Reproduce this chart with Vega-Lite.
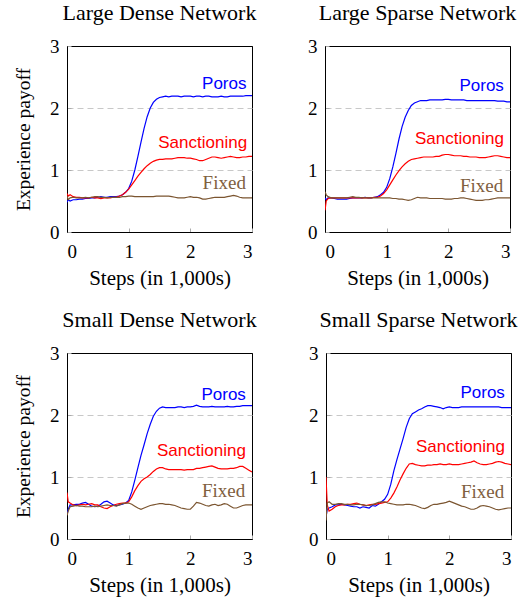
{
"$schema":"https://vega.github.io/schema/vega-lite/v6.json",
"padding":{"left":13,"top":1,"right":5,"bottom":5},
"background":"white",
"datasets":{
"curves":[
{"p":"LD","x":0,"Poros":0.48,"Sanctioning":0.62,"Fixed":0.58},
{"p":"LD","x":0.02,"Poros":0.52,"Sanctioning":0.58,"Fixed":0.52},
{"p":"LD","x":0.05,"Poros":0.5,"Sanctioning":0.6,"Fixed":0.55},
{"p":"LD","x":0.1,"Poros":0.52,"Sanctioning":0.57,"Fixed":0.56},
{"p":"LD","x":0.15,"Poros":0.52,"Sanctioning":0.56,"Fixed":0.55},
{"p":"LD","x":0.2,"Poros":0.53,"Sanctioning":0.56,"Fixed":0.55},
{"p":"LD","x":0.25,"Poros":0.53,"Sanctioning":0.55,"Fixed":0.55},
{"p":"LD","x":0.3,"Poros":0.54,"Sanctioning":0.55,"Fixed":0.56},
{"p":"LD","x":0.35,"Poros":0.54,"Sanctioning":0.55,"Fixed":0.55},
{"p":"LD","x":0.4,"Poros":0.55,"Sanctioning":0.56,"Fixed":0.56},
{"p":"LD","x":0.45,"Poros":0.55,"Sanctioning":0.55,"Fixed":0.57},
{"p":"LD","x":0.5,"Poros":0.56,"Sanctioning":0.55,"Fixed":0.57},
{"p":"LD","x":0.55,"Poros":0.57,"Sanctioning":0.54,"Fixed":0.56},
{"p":"LD","x":0.6,"Poros":0.56,"Sanctioning":0.55,"Fixed":0.56},
{"p":"LD","x":0.65,"Poros":0.56,"Sanctioning":0.55,"Fixed":0.55},
{"p":"LD","x":0.7,"Poros":0.57,"Sanctioning":0.55,"Fixed":0.56},
{"p":"LD","x":0.75,"Poros":0.57,"Sanctioning":0.56,"Fixed":0.56},
{"p":"LD","x":0.8,"Poros":0.57,"Sanctioning":0.56,"Fixed":0.56},
{"p":"LD","x":0.85,"Poros":0.58,"Sanctioning":0.58,"Fixed":0.56},
{"p":"LD","x":0.9,"Poros":0.6,"Sanctioning":0.6,"Fixed":0.57},
{"p":"LD","x":0.95,"Poros":0.64,"Sanctioning":0.64,"Fixed":0.57},
{"p":"LD","x":1.0,"Poros":0.7,"Sanctioning":0.69,"Fixed":0.58},
{"p":"LD","x":1.05,"Poros":0.82,"Sanctioning":0.76,"Fixed":0.58},
{"p":"LD","x":1.1,"Poros":1.0,"Sanctioning":0.83,"Fixed":0.57},
{"p":"LD","x":1.15,"Poros":1.22,"Sanctioning":0.9,"Fixed":0.57},
{"p":"LD","x":1.2,"Poros":1.45,"Sanctioning":0.96,"Fixed":0.57},
{"p":"LD","x":1.25,"Poros":1.67,"Sanctioning":1.02,"Fixed":0.57},
{"p":"LD","x":1.3,"Poros":1.86,"Sanctioning":1.07,"Fixed":0.57},
{"p":"LD","x":1.35,"Poros":2.0,"Sanctioning":1.11,"Fixed":0.57},
{"p":"LD","x":1.4,"Poros":2.09,"Sanctioning":1.14,"Fixed":0.57},
{"p":"LD","x":1.45,"Poros":2.14,"Sanctioning":1.16,"Fixed":0.58},
{"p":"LD","x":1.5,"Poros":2.17,"Sanctioning":1.17,"Fixed":0.58},
{"p":"LD","x":1.55,"Poros":2.18,"Sanctioning":1.17,"Fixed":0.58},
{"p":"LD","x":1.6,"Poros":2.19,"Sanctioning":1.18,"Fixed":0.58},
{"p":"LD","x":1.65,"Poros":2.18,"Sanctioning":1.18,"Fixed":0.58},
{"p":"LD","x":1.7,"Poros":2.19,"Sanctioning":1.18,"Fixed":0.57},
{"p":"LD","x":1.75,"Poros":2.19,"Sanctioning":1.19,"Fixed":0.56},
{"p":"LD","x":1.8,"Poros":2.19,"Sanctioning":1.2,"Fixed":0.55},
{"p":"LD","x":1.85,"Poros":2.18,"Sanctioning":1.2,"Fixed":0.55},
{"p":"LD","x":1.9,"Poros":2.19,"Sanctioning":1.2,"Fixed":0.55},
{"p":"LD","x":1.95,"Poros":2.19,"Sanctioning":1.19,"Fixed":0.56},
{"p":"LD","x":2.0,"Poros":2.19,"Sanctioning":1.19,"Fixed":0.57},
{"p":"LD","x":2.05,"Poros":2.18,"Sanctioning":1.18,"Fixed":0.56},
{"p":"LD","x":2.1,"Poros":2.19,"Sanctioning":1.17,"Fixed":0.56},
{"p":"LD","x":2.15,"Poros":2.19,"Sanctioning":1.15,"Fixed":0.55},
{"p":"LD","x":2.2,"Poros":2.18,"Sanctioning":1.15,"Fixed":0.53},
{"p":"LD","x":2.25,"Poros":2.19,"Sanctioning":1.17,"Fixed":0.53},
{"p":"LD","x":2.3,"Poros":2.19,"Sanctioning":1.19,"Fixed":0.54},
{"p":"LD","x":2.35,"Poros":2.18,"Sanctioning":1.21,"Fixed":0.55},
{"p":"LD","x":2.4,"Poros":2.18,"Sanctioning":1.21,"Fixed":0.56},
{"p":"LD","x":2.45,"Poros":2.18,"Sanctioning":1.2,"Fixed":0.56},
{"p":"LD","x":2.5,"Poros":2.19,"Sanctioning":1.19,"Fixed":0.56},
{"p":"LD","x":2.55,"Poros":2.18,"Sanctioning":1.2,"Fixed":0.56},
{"p":"LD","x":2.6,"Poros":2.18,"Sanctioning":1.21,"Fixed":0.57},
{"p":"LD","x":2.65,"Poros":2.19,"Sanctioning":1.22,"Fixed":0.58},
{"p":"LD","x":2.7,"Poros":2.19,"Sanctioning":1.21,"Fixed":0.59},
{"p":"LD","x":2.75,"Poros":2.19,"Sanctioning":1.2,"Fixed":0.58},
{"p":"LD","x":2.8,"Poros":2.19,"Sanctioning":1.2,"Fixed":0.56},
{"p":"LD","x":2.85,"Poros":2.19,"Sanctioning":1.21,"Fixed":0.55},
{"p":"LD","x":2.9,"Poros":2.2,"Sanctioning":1.21,"Fixed":0.55},
{"p":"LD","x":2.95,"Poros":2.2,"Sanctioning":1.22,"Fixed":0.55},
{"p":"LD","x":3.0,"Poros":2.2,"Sanctioning":1.22,"Fixed":0.55},
{"p":"LS","x":0,"Poros":0.55,"Sanctioning":0.35,"Fixed":0.65},
{"p":"LS","x":0.02,"Poros":0.52,"Sanctioning":0.5,"Fixed":0.6},
{"p":"LS","x":0.05,"Poros":0.55,"Sanctioning":0.54,"Fixed":0.57},
{"p":"LS","x":0.1,"Poros":0.55,"Sanctioning":0.55,"Fixed":0.55},
{"p":"LS","x":0.15,"Poros":0.54,"Sanctioning":0.55,"Fixed":0.55},
{"p":"LS","x":0.2,"Poros":0.53,"Sanctioning":0.55,"Fixed":0.55},
{"p":"LS","x":0.25,"Poros":0.53,"Sanctioning":0.55,"Fixed":0.55},
{"p":"LS","x":0.3,"Poros":0.53,"Sanctioning":0.55,"Fixed":0.55},
{"p":"LS","x":0.35,"Poros":0.53,"Sanctioning":0.55,"Fixed":0.55},
{"p":"LS","x":0.4,"Poros":0.54,"Sanctioning":0.55,"Fixed":0.56},
{"p":"LS","x":0.45,"Poros":0.55,"Sanctioning":0.55,"Fixed":0.57},
{"p":"LS","x":0.5,"Poros":0.55,"Sanctioning":0.55,"Fixed":0.56},
{"p":"LS","x":0.55,"Poros":0.55,"Sanctioning":0.55,"Fixed":0.56},
{"p":"LS","x":0.6,"Poros":0.55,"Sanctioning":0.55,"Fixed":0.55},
{"p":"LS","x":0.65,"Poros":0.56,"Sanctioning":0.55,"Fixed":0.55},
{"p":"LS","x":0.7,"Poros":0.55,"Sanctioning":0.55,"Fixed":0.55},
{"p":"LS","x":0.75,"Poros":0.55,"Sanctioning":0.55,"Fixed":0.55},
{"p":"LS","x":0.8,"Poros":0.56,"Sanctioning":0.56,"Fixed":0.55},
{"p":"LS","x":0.85,"Poros":0.57,"Sanctioning":0.56,"Fixed":0.55},
{"p":"LS","x":0.9,"Poros":0.6,"Sanctioning":0.58,"Fixed":0.55},
{"p":"LS","x":0.95,"Poros":0.64,"Sanctioning":0.62,"Fixed":0.55},
{"p":"LS","x":1.0,"Poros":0.72,"Sanctioning":0.68,"Fixed":0.55},
{"p":"LS","x":1.05,"Poros":0.86,"Sanctioning":0.76,"Fixed":0.55},
{"p":"LS","x":1.1,"Poros":1.05,"Sanctioning":0.84,"Fixed":0.54},
{"p":"LS","x":1.15,"Poros":1.27,"Sanctioning":0.92,"Fixed":0.54},
{"p":"LS","x":1.2,"Poros":1.5,"Sanctioning":0.99,"Fixed":0.53},
{"p":"LS","x":1.25,"Poros":1.7,"Sanctioning":1.05,"Fixed":0.53},
{"p":"LS","x":1.3,"Poros":1.85,"Sanctioning":1.1,"Fixed":0.52},
{"p":"LS","x":1.35,"Poros":1.96,"Sanctioning":1.14,"Fixed":0.51},
{"p":"LS","x":1.4,"Poros":2.04,"Sanctioning":1.17,"Fixed":0.52},
{"p":"LS","x":1.45,"Poros":2.08,"Sanctioning":1.18,"Fixed":0.54},
{"p":"LS","x":1.5,"Poros":2.1,"Sanctioning":1.19,"Fixed":0.56},
{"p":"LS","x":1.55,"Poros":2.12,"Sanctioning":1.2,"Fixed":0.55},
{"p":"LS","x":1.6,"Poros":2.12,"Sanctioning":1.21,"Fixed":0.55},
{"p":"LS","x":1.65,"Poros":2.12,"Sanctioning":1.21,"Fixed":0.55},
{"p":"LS","x":1.7,"Poros":2.13,"Sanctioning":1.21,"Fixed":0.54},
{"p":"LS","x":1.75,"Poros":2.13,"Sanctioning":1.21,"Fixed":0.54},
{"p":"LS","x":1.8,"Poros":2.13,"Sanctioning":1.22,"Fixed":0.54},
{"p":"LS","x":1.85,"Poros":2.13,"Sanctioning":1.22,"Fixed":0.54},
{"p":"LS","x":1.9,"Poros":2.13,"Sanctioning":1.24,"Fixed":0.54},
{"p":"LS","x":1.95,"Poros":2.14,"Sanctioning":1.25,"Fixed":0.53},
{"p":"LS","x":2.0,"Poros":2.14,"Sanctioning":1.25,"Fixed":0.53},
{"p":"LS","x":2.05,"Poros":2.13,"Sanctioning":1.24,"Fixed":0.53},
{"p":"LS","x":2.1,"Poros":2.13,"Sanctioning":1.23,"Fixed":0.54},
{"p":"LS","x":2.15,"Poros":2.13,"Sanctioning":1.23,"Fixed":0.54},
{"p":"LS","x":2.2,"Poros":2.13,"Sanctioning":1.23,"Fixed":0.55},
{"p":"LS","x":2.25,"Poros":2.13,"Sanctioning":1.22,"Fixed":0.55},
{"p":"LS","x":2.3,"Poros":2.12,"Sanctioning":1.22,"Fixed":0.54},
{"p":"LS","x":2.35,"Poros":2.12,"Sanctioning":1.21,"Fixed":0.53},
{"p":"LS","x":2.4,"Poros":2.12,"Sanctioning":1.21,"Fixed":0.52},
{"p":"LS","x":2.45,"Poros":2.12,"Sanctioning":1.21,"Fixed":0.51},
{"p":"LS","x":2.5,"Poros":2.12,"Sanctioning":1.2,"Fixed":0.51},
{"p":"LS","x":2.55,"Poros":2.12,"Sanctioning":1.2,"Fixed":0.51},
{"p":"LS","x":2.6,"Poros":2.12,"Sanctioning":1.2,"Fixed":0.52},
{"p":"LS","x":2.65,"Poros":2.12,"Sanctioning":1.21,"Fixed":0.52},
{"p":"LS","x":2.7,"Poros":2.12,"Sanctioning":1.22,"Fixed":0.53},
{"p":"LS","x":2.75,"Poros":2.12,"Sanctioning":1.23,"Fixed":0.54},
{"p":"LS","x":2.8,"Poros":2.11,"Sanctioning":1.23,"Fixed":0.55},
{"p":"LS","x":2.85,"Poros":2.11,"Sanctioning":1.22,"Fixed":0.55},
{"p":"LS","x":2.9,"Poros":2.11,"Sanctioning":1.21,"Fixed":0.55},
{"p":"LS","x":2.95,"Poros":2.1,"Sanctioning":1.2,"Fixed":0.55},
{"p":"LS","x":3.0,"Poros":2.1,"Sanctioning":1.2,"Fixed":0.55},
{"p":"SD","x":0,"Poros":0.4,"Sanctioning":0.75,"Fixed":0.38},
{"p":"SD","x":0.02,"Poros":0.48,"Sanctioning":0.6,"Fixed":0.45},
{"p":"SD","x":0.05,"Poros":0.55,"Sanctioning":0.58,"Fixed":0.52},
{"p":"SD","x":0.1,"Poros":0.55,"Sanctioning":0.55,"Fixed":0.53},
{"p":"SD","x":0.15,"Poros":0.56,"Sanctioning":0.54,"Fixed":0.54},
{"p":"SD","x":0.2,"Poros":0.56,"Sanctioning":0.55,"Fixed":0.53},
{"p":"SD","x":0.25,"Poros":0.58,"Sanctioning":0.56,"Fixed":0.53},
{"p":"SD","x":0.3,"Poros":0.59,"Sanctioning":0.55,"Fixed":0.52},
{"p":"SD","x":0.35,"Poros":0.56,"Sanctioning":0.56,"Fixed":0.52},
{"p":"SD","x":0.4,"Poros":0.53,"Sanctioning":0.57,"Fixed":0.52},
{"p":"SD","x":0.45,"Poros":0.52,"Sanctioning":0.55,"Fixed":0.53},
{"p":"SD","x":0.5,"Poros":0.53,"Sanctioning":0.55,"Fixed":0.52},
{"p":"SD","x":0.55,"Poros":0.56,"Sanctioning":0.52,"Fixed":0.53},
{"p":"SD","x":0.6,"Poros":0.6,"Sanctioning":0.5,"Fixed":0.54},
{"p":"SD","x":0.65,"Poros":0.61,"Sanctioning":0.49,"Fixed":0.55},
{"p":"SD","x":0.7,"Poros":0.58,"Sanctioning":0.52,"Fixed":0.54},
{"p":"SD","x":0.75,"Poros":0.55,"Sanctioning":0.54,"Fixed":0.54},
{"p":"SD","x":0.8,"Poros":0.54,"Sanctioning":0.56,"Fixed":0.53},
{"p":"SD","x":0.85,"Poros":0.55,"Sanctioning":0.57,"Fixed":0.55},
{"p":"SD","x":0.9,"Poros":0.56,"Sanctioning":0.58,"Fixed":0.57},
{"p":"SD","x":0.95,"Poros":0.58,"Sanctioning":0.58,"Fixed":0.58},
{"p":"SD","x":1.0,"Poros":0.62,"Sanctioning":0.6,"Fixed":0.58},
{"p":"SD","x":1.05,"Poros":0.76,"Sanctioning":0.68,"Fixed":0.56},
{"p":"SD","x":1.1,"Poros":0.95,"Sanctioning":0.78,"Fixed":0.53},
{"p":"SD","x":1.15,"Poros":1.15,"Sanctioning":0.86,"Fixed":0.5},
{"p":"SD","x":1.2,"Poros":1.35,"Sanctioning":0.93,"Fixed":0.48},
{"p":"SD","x":1.25,"Poros":1.52,"Sanctioning":0.97,"Fixed":0.5},
{"p":"SD","x":1.3,"Poros":1.7,"Sanctioning":1.0,"Fixed":0.52},
{"p":"SD","x":1.35,"Poros":1.85,"Sanctioning":1.04,"Fixed":0.54},
{"p":"SD","x":1.4,"Poros":1.98,"Sanctioning":1.09,"Fixed":0.55},
{"p":"SD","x":1.45,"Poros":2.06,"Sanctioning":1.13,"Fixed":0.56},
{"p":"SD","x":1.5,"Poros":2.11,"Sanctioning":1.15,"Fixed":0.57},
{"p":"SD","x":1.55,"Poros":2.13,"Sanctioning":1.15,"Fixed":0.57},
{"p":"SD","x":1.6,"Poros":2.12,"Sanctioning":1.13,"Fixed":0.56},
{"p":"SD","x":1.65,"Poros":2.12,"Sanctioning":1.12,"Fixed":0.56},
{"p":"SD","x":1.7,"Poros":2.12,"Sanctioning":1.12,"Fixed":0.55},
{"p":"SD","x":1.75,"Poros":2.12,"Sanctioning":1.12,"Fixed":0.54},
{"p":"SD","x":1.8,"Poros":2.13,"Sanctioning":1.12,"Fixed":0.52},
{"p":"SD","x":1.85,"Poros":2.13,"Sanctioning":1.12,"Fixed":0.5},
{"p":"SD","x":1.9,"Poros":2.12,"Sanctioning":1.11,"Fixed":0.49},
{"p":"SD","x":1.95,"Poros":2.13,"Sanctioning":1.12,"Fixed":0.48},
{"p":"SD","x":2.0,"Poros":2.13,"Sanctioning":1.12,"Fixed":0.48},
{"p":"SD","x":2.05,"Poros":2.14,"Sanctioning":1.12,"Fixed":0.53},
{"p":"SD","x":2.1,"Poros":2.16,"Sanctioning":1.14,"Fixed":0.59},
{"p":"SD","x":2.15,"Poros":2.14,"Sanctioning":1.14,"Fixed":0.58},
{"p":"SD","x":2.2,"Poros":2.13,"Sanctioning":1.15,"Fixed":0.56},
{"p":"SD","x":2.25,"Poros":2.13,"Sanctioning":1.16,"Fixed":0.54},
{"p":"SD","x":2.3,"Poros":2.13,"Sanctioning":1.17,"Fixed":0.53},
{"p":"SD","x":2.35,"Poros":2.14,"Sanctioning":1.18,"Fixed":0.55},
{"p":"SD","x":2.4,"Poros":2.13,"Sanctioning":1.16,"Fixed":0.56},
{"p":"SD","x":2.45,"Poros":2.13,"Sanctioning":1.14,"Fixed":0.54},
{"p":"SD","x":2.5,"Poros":2.13,"Sanctioning":1.13,"Fixed":0.55},
{"p":"SD","x":2.55,"Poros":2.13,"Sanctioning":1.13,"Fixed":0.57},
{"p":"SD","x":2.6,"Poros":2.14,"Sanctioning":1.13,"Fixed":0.56},
{"p":"SD","x":2.65,"Poros":2.13,"Sanctioning":1.14,"Fixed":0.53},
{"p":"SD","x":2.7,"Poros":2.13,"Sanctioning":1.14,"Fixed":0.5},
{"p":"SD","x":2.75,"Poros":2.14,"Sanctioning":1.15,"Fixed":0.5},
{"p":"SD","x":2.8,"Poros":2.14,"Sanctioning":1.17,"Fixed":0.52},
{"p":"SD","x":2.85,"Poros":2.15,"Sanctioning":1.17,"Fixed":0.54},
{"p":"SD","x":2.9,"Poros":2.15,"Sanctioning":1.14,"Fixed":0.55},
{"p":"SD","x":2.95,"Poros":2.15,"Sanctioning":1.11,"Fixed":0.55},
{"p":"SD","x":3.0,"Poros":2.15,"Sanctioning":1.08,"Fixed":0.55},
{"p":"SS","x":0,"Poros":0.35,"Sanctioning":1.0,"Fixed":0.3},
{"p":"SS","x":0.02,"Poros":0.48,"Sanctioning":0.55,"Fixed":0.58},
{"p":"SS","x":0.05,"Poros":0.5,"Sanctioning":0.45,"Fixed":0.6},
{"p":"SS","x":0.1,"Poros":0.52,"Sanctioning":0.48,"Fixed":0.56},
{"p":"SS","x":0.15,"Poros":0.55,"Sanctioning":0.52,"Fixed":0.56},
{"p":"SS","x":0.2,"Poros":0.55,"Sanctioning":0.54,"Fixed":0.57},
{"p":"SS","x":0.25,"Poros":0.56,"Sanctioning":0.55,"Fixed":0.57},
{"p":"SS","x":0.3,"Poros":0.55,"Sanctioning":0.55,"Fixed":0.56},
{"p":"SS","x":0.35,"Poros":0.54,"Sanctioning":0.56,"Fixed":0.56},
{"p":"SS","x":0.4,"Poros":0.53,"Sanctioning":0.56,"Fixed":0.55},
{"p":"SS","x":0.45,"Poros":0.52,"Sanctioning":0.57,"Fixed":0.55},
{"p":"SS","x":0.5,"Poros":0.52,"Sanctioning":0.58,"Fixed":0.56},
{"p":"SS","x":0.55,"Poros":0.5,"Sanctioning":0.56,"Fixed":0.56},
{"p":"SS","x":0.6,"Poros":0.52,"Sanctioning":0.55,"Fixed":0.55},
{"p":"SS","x":0.65,"Poros":0.51,"Sanctioning":0.54,"Fixed":0.54},
{"p":"SS","x":0.7,"Poros":0.5,"Sanctioning":0.55,"Fixed":0.54},
{"p":"SS","x":0.75,"Poros":0.54,"Sanctioning":0.56,"Fixed":0.55},
{"p":"SS","x":0.8,"Poros":0.53,"Sanctioning":0.56,"Fixed":0.57},
{"p":"SS","x":0.85,"Poros":0.56,"Sanctioning":0.57,"Fixed":0.59},
{"p":"SS","x":0.9,"Poros":0.6,"Sanctioning":0.58,"Fixed":0.6},
{"p":"SS","x":0.95,"Poros":0.64,"Sanctioning":0.59,"Fixed":0.6},
{"p":"SS","x":1.0,"Poros":0.72,"Sanctioning":0.6,"Fixed":0.58},
{"p":"SS","x":1.05,"Poros":0.88,"Sanctioning":0.66,"Fixed":0.57},
{"p":"SS","x":1.1,"Poros":1.1,"Sanctioning":0.74,"Fixed":0.56},
{"p":"SS","x":1.15,"Poros":1.28,"Sanctioning":0.84,"Fixed":0.55},
{"p":"SS","x":1.2,"Poros":1.45,"Sanctioning":0.95,"Fixed":0.55},
{"p":"SS","x":1.25,"Poros":1.62,"Sanctioning":1.05,"Fixed":0.55},
{"p":"SS","x":1.3,"Poros":1.8,"Sanctioning":1.14,"Fixed":0.56},
{"p":"SS","x":1.35,"Poros":1.94,"Sanctioning":1.21,"Fixed":0.56},
{"p":"SS","x":1.4,"Poros":2.02,"Sanctioning":1.22,"Fixed":0.55},
{"p":"SS","x":1.45,"Poros":2.05,"Sanctioning":1.2,"Fixed":0.54},
{"p":"SS","x":1.5,"Poros":2.08,"Sanctioning":1.19,"Fixed":0.52},
{"p":"SS","x":1.55,"Poros":2.1,"Sanctioning":1.18,"Fixed":0.5},
{"p":"SS","x":1.6,"Poros":2.13,"Sanctioning":1.18,"Fixed":0.49},
{"p":"SS","x":1.65,"Poros":2.15,"Sanctioning":1.19,"Fixed":0.51},
{"p":"SS","x":1.7,"Poros":2.15,"Sanctioning":1.19,"Fixed":0.54},
{"p":"SS","x":1.75,"Poros":2.14,"Sanctioning":1.2,"Fixed":0.56},
{"p":"SS","x":1.8,"Poros":2.13,"Sanctioning":1.2,"Fixed":0.56},
{"p":"SS","x":1.85,"Poros":2.12,"Sanctioning":1.21,"Fixed":0.57},
{"p":"SS","x":1.9,"Poros":2.1,"Sanctioning":1.2,"Fixed":0.58},
{"p":"SS","x":1.95,"Poros":2.12,"Sanctioning":1.2,"Fixed":0.59},
{"p":"SS","x":2.0,"Poros":2.13,"Sanctioning":1.21,"Fixed":0.61},
{"p":"SS","x":2.05,"Poros":2.12,"Sanctioning":1.2,"Fixed":0.59},
{"p":"SS","x":2.1,"Poros":2.12,"Sanctioning":1.2,"Fixed":0.57},
{"p":"SS","x":2.15,"Poros":2.12,"Sanctioning":1.2,"Fixed":0.55},
{"p":"SS","x":2.2,"Poros":2.13,"Sanctioning":1.21,"Fixed":0.53},
{"p":"SS","x":2.25,"Poros":2.13,"Sanctioning":1.22,"Fixed":0.52},
{"p":"SS","x":2.3,"Poros":2.13,"Sanctioning":1.23,"Fixed":0.5},
{"p":"SS","x":2.35,"Poros":2.13,"Sanctioning":1.24,"Fixed":0.48},
{"p":"SS","x":2.4,"Poros":2.13,"Sanctioning":1.26,"Fixed":0.48},
{"p":"SS","x":2.45,"Poros":2.13,"Sanctioning":1.23,"Fixed":0.5},
{"p":"SS","x":2.5,"Poros":2.13,"Sanctioning":1.21,"Fixed":0.53},
{"p":"SS","x":2.55,"Poros":2.13,"Sanctioning":1.2,"Fixed":0.54},
{"p":"SS","x":2.6,"Poros":2.13,"Sanctioning":1.2,"Fixed":0.53},
{"p":"SS","x":2.65,"Poros":2.13,"Sanctioning":1.21,"Fixed":0.52},
{"p":"SS","x":2.7,"Poros":2.13,"Sanctioning":1.22,"Fixed":0.5},
{"p":"SS","x":2.75,"Poros":2.13,"Sanctioning":1.24,"Fixed":0.48},
{"p":"SS","x":2.8,"Poros":2.13,"Sanctioning":1.25,"Fixed":0.47},
{"p":"SS","x":2.85,"Poros":2.12,"Sanctioning":1.24,"Fixed":0.48},
{"p":"SS","x":2.9,"Poros":2.12,"Sanctioning":1.22,"Fixed":0.49},
{"p":"SS","x":2.95,"Poros":2.12,"Sanctioning":1.21,"Fixed":0.5},
{"p":"SS","x":3.0,"Poros":2.12,"Sanctioning":1.2,"Fixed":0.5}
],
"labels":[
{"p":"LD","s":"Poros","x":2.55,"y":2.39},
{"p":"LD","s":"Sanctioning","x":2.2,"y":1.44},
{"p":"LD","s":"Fixed","x":2.55,"y":0.79},
{"p":"LS","s":"Poros","x":2.54,"y":2.35},
{"p":"LS","s":"Sanctioning","x":2.18,"y":1.5},
{"p":"LS","s":"Fixed","x":2.54,"y":0.75},
{"p":"SD","s":"Poros","x":2.54,"y":2.32},
{"p":"SD","s":"Sanctioning","x":2.18,"y":1.42},
{"p":"SD","s":"Fixed","x":2.54,"y":0.78},
{"p":"SS","s":"Poros","x":2.54,"y":2.35},
{"p":"SS","s":"Sanctioning","x":2.18,"y":1.49},
{"p":"SS","s":"Fixed","x":2.54,"y":0.76}
]
},
"spacing":19,
"vconcat":[
{"spacing":50,"hconcat":[
{"title":"Large Dense Network","width":185,"height":186,"layer":[
{"data":{"name":"curves"},"transform":[{"filter":"datum.p==='LD'"},{"fold":["Poros","Sanctioning","Fixed"],"as":["s","v"]}],"mark":{"type":"line","strokeWidth":1.2,"clip":true},"encoding":{"x":{"field":"x","type":"quantitative","scale":{"domain":[0,3],"nice":false},"axis":{"title":"Steps (in 1,000s)","values":[0,1,2,3],"format":"d","grid":false}},"y":{"field":"v","type":"quantitative","scale":{"domain":[0,3],"nice":false},"axis":{"title":"Experience payoff","values":[0,1,2,3],"format":"d"}},"color":{"field":"s","type":"nominal","scale":{"domain":["Poros","Sanctioning","Fixed"],"range":["#0000ff","#ff0000","#7b5530"]},"legend":null}}},
{"mark":{"type":"rule","strokeDash":[6,4],"color":"#000","strokeWidth":1},"encoding":{"x":{"datum":1}}},
{"data":{"name":"labels"},"transform":[{"filter":"datum.p==='LD' && datum.s!=='Fixed'"}],"mark":{"type":"text","font":"Liberation Sans","fontSize":17},"encoding":{"x":{"field":"x","type":"quantitative"},"y":{"field":"y","type":"quantitative"},"text":{"field":"s"},"color":{"field":"s","type":"nominal","legend":null}}},
{"data":{"name":"labels"},"transform":[{"filter":"datum.p==='LD' && datum.s==='Fixed'"}],"mark":{"type":"text","font":"Liberation Serif","fontSize":19,"color":"#80603f"},"encoding":{"x":{"field":"x","type":"quantitative"},"y":{"field":"y","type":"quantitative"},"text":{"field":"s"}}}
]},
{"title":"Large Sparse Network","width":185,"height":186,"layer":[
{"data":{"name":"curves"},"transform":[{"filter":"datum.p==='LS'"},{"fold":["Poros","Sanctioning","Fixed"],"as":["s","v"]}],"mark":{"type":"line","strokeWidth":1.2,"clip":true},"encoding":{"x":{"field":"x","type":"quantitative","scale":{"domain":[0,3],"nice":false},"axis":{"title":"Steps (in 1,000s)","values":[0,1,2,3],"format":"d","grid":false}},"y":{"field":"v","type":"quantitative","scale":{"domain":[0,3],"nice":false},"axis":{"title":null,"values":[0,1,2,3],"format":"d"}},"color":{"field":"s","type":"nominal","scale":{"domain":["Poros","Sanctioning","Fixed"],"range":["#0000ff","#ff0000","#7b5530"]},"legend":null}}},
{"mark":{"type":"rule","strokeDash":[6,4],"color":"#000","strokeWidth":1},"encoding":{"x":{"datum":1}}},
{"data":{"name":"labels"},"transform":[{"filter":"datum.p==='LS' && datum.s!=='Fixed'"}],"mark":{"type":"text","font":"Liberation Sans","fontSize":17},"encoding":{"x":{"field":"x","type":"quantitative"},"y":{"field":"y","type":"quantitative"},"text":{"field":"s"},"color":{"field":"s","type":"nominal","legend":null}}},
{"data":{"name":"labels"},"transform":[{"filter":"datum.p==='LS' && datum.s==='Fixed'"}],"mark":{"type":"text","font":"Liberation Serif","fontSize":19,"color":"#80603f"},"encoding":{"x":{"field":"x","type":"quantitative"},"y":{"field":"y","type":"quantitative"},"text":{"field":"s"}}}
]}
]},
{"spacing":50,"hconcat":[
{"title":"Small Dense Network","width":185,"height":186,"layer":[
{"data":{"name":"curves"},"transform":[{"filter":"datum.p==='SD'"},{"fold":["Poros","Sanctioning","Fixed"],"as":["s","v"]}],"mark":{"type":"line","strokeWidth":1.2,"clip":true},"encoding":{"x":{"field":"x","type":"quantitative","scale":{"domain":[0,3],"nice":false},"axis":{"title":"Steps (in 1,000s)","values":[0,1,2,3],"format":"d","grid":false}},"y":{"field":"v","type":"quantitative","scale":{"domain":[0,3],"nice":false},"axis":{"title":"Experience payoff","values":[0,1,2,3],"format":"d"}},"color":{"field":"s","type":"nominal","scale":{"domain":["Poros","Sanctioning","Fixed"],"range":["#0000ff","#ff0000","#7b5530"]},"legend":null}}},
{"mark":{"type":"rule","strokeDash":[6,4],"color":"#000","strokeWidth":1},"encoding":{"x":{"datum":1}}},
{"data":{"name":"labels"},"transform":[{"filter":"datum.p==='SD' && datum.s!=='Fixed'"}],"mark":{"type":"text","font":"Liberation Sans","fontSize":17},"encoding":{"x":{"field":"x","type":"quantitative"},"y":{"field":"y","type":"quantitative"},"text":{"field":"s"},"color":{"field":"s","type":"nominal","legend":null}}},
{"data":{"name":"labels"},"transform":[{"filter":"datum.p==='SD' && datum.s==='Fixed'"}],"mark":{"type":"text","font":"Liberation Serif","fontSize":19,"color":"#80603f"},"encoding":{"x":{"field":"x","type":"quantitative"},"y":{"field":"y","type":"quantitative"},"text":{"field":"s"}}}
]},
{"title":"Small Sparse Network","width":185,"height":186,"layer":[
{"data":{"name":"curves"},"transform":[{"filter":"datum.p==='SS'"},{"fold":["Poros","Sanctioning","Fixed"],"as":["s","v"]}],"mark":{"type":"line","strokeWidth":1.2,"clip":true},"encoding":{"x":{"field":"x","type":"quantitative","scale":{"domain":[0,3],"nice":false},"axis":{"title":"Steps (in 1,000s)","values":[0,1,2,3],"format":"d","grid":false}},"y":{"field":"v","type":"quantitative","scale":{"domain":[0,3],"nice":false},"axis":{"title":null,"values":[0,1,2,3],"format":"d"}},"color":{"field":"s","type":"nominal","scale":{"domain":["Poros","Sanctioning","Fixed"],"range":["#0000ff","#ff0000","#7b5530"]},"legend":null}}},
{"mark":{"type":"rule","strokeDash":[6,4],"color":"#000","strokeWidth":1},"encoding":{"x":{"datum":1}}},
{"data":{"name":"labels"},"transform":[{"filter":"datum.p==='SS' && datum.s!=='Fixed'"}],"mark":{"type":"text","font":"Liberation Sans","fontSize":17},"encoding":{"x":{"field":"x","type":"quantitative"},"y":{"field":"y","type":"quantitative"},"text":{"field":"s"},"color":{"field":"s","type":"nominal","legend":null}}},
{"data":{"name":"labels"},"transform":[{"filter":"datum.p==='SS' && datum.s==='Fixed'"}],"mark":{"type":"text","font":"Liberation Serif","fontSize":19,"color":"#80603f"},"encoding":{"x":{"field":"x","type":"quantitative"},"y":{"field":"y","type":"quantitative"},"text":{"field":"s"}}}
]}
]}
],
"config":{
"font":"Liberation Serif",
"view":{"stroke":"#000","strokeWidth":1},
"title":{"font":"Liberation Serif","fontSize":22,"fontWeight":"normal","color":"#000","anchor":"middle","offset":12},
"axis":{"labelFont":"Liberation Serif","labelFontSize":19,"labelColor":"#000","titleFont":"Liberation Serif","titleFontWeight":"normal","titleColor":"#000","domainColor":"#000","tickColor":"#aaaaaa","tickSize":-4,"gridColor":{"condition":{"test":"datum.value===0 || datum.value===3","value":"#000000"},"value":"#c8c8c8"},"gridDash":{"condition":{"test":"datum.value===0 || datum.value===3","value":[]},"value":[6,4]},"gridWidth":1,"labelAngle":0},
"axisX":{"titlePadding":6,"labelPadding":14,"titleFontSize":21},
"axisY":{"titlePadding":16,"labelPadding":12,"titleFontSize":19.5}
}
}
